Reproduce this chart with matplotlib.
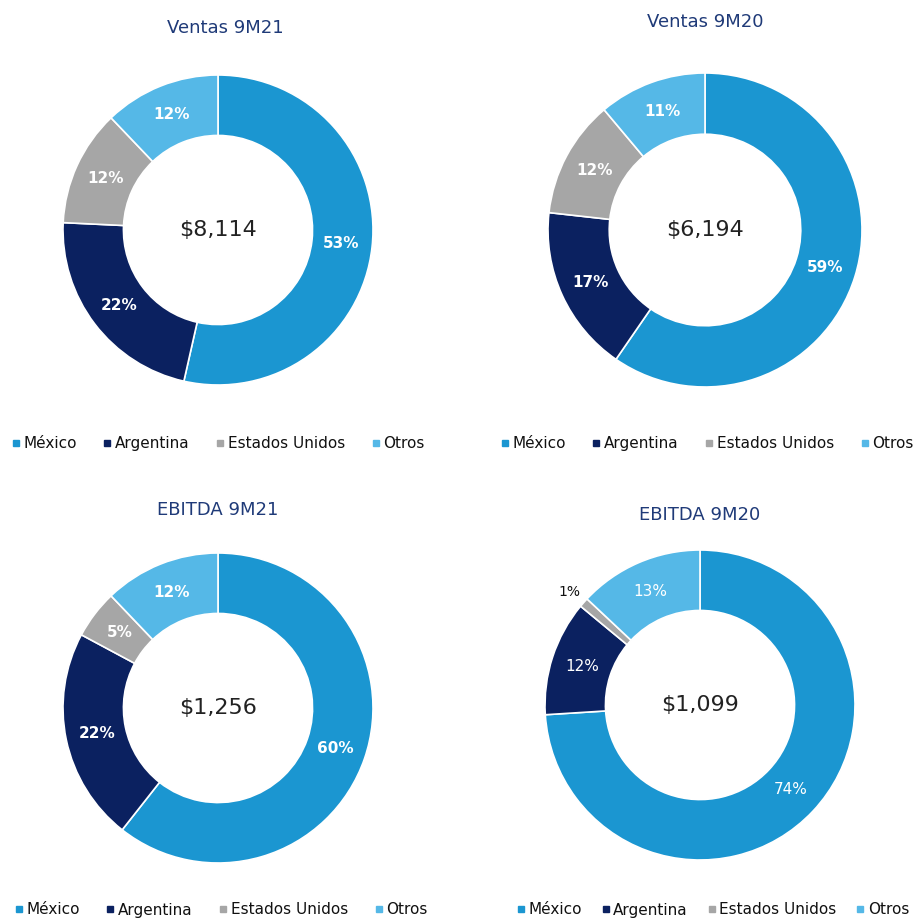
import matplotlib
matplotlib.use("Agg")
import matplotlib.pyplot as plt
from matplotlib.lines import Line2D
import numpy as np

categories = ["México", "Argentina", "Estados Unidos", "Otros"]
colors = ["#1B96D1", "#0B2160", "#A6A6A6", "#55B8E7"]

titles = ["Ventas 9M21", "Ventas 9M20", "EBITDA 9M21", "EBITDA 9M20"]
totals = ["$8,114", "$6,194", "$1,256", "$1,099"]
ventas_9m21 = [53, 22, 12, 12]
ventas_9m20 = [59, 17, 12, 11]
ebitda_9m21 = [60, 22, 5, 12]
ebitda_9m20 = [74, 12, 1, 13]
series = [ventas_9m21, ventas_9m20, ebitda_9m21, ebitda_9m20]

W, H = 917, 919
fig = plt.figure(figsize=(W / 100, H / 100), dpi=100)

# (center x, center y, radius) in pixels, title y, legend (x, y), legend column spacing
layout = [
    ((218, 230, 155), 28, (217, 444), 1.6),
    ((705, 230, 157), 22, (706, 444), 1.6),
    ((218, 708, 155), 510, (220, 910), 1.6),
    ((700, 705, 155), 515, (712, 910), 1.15),
]
bold_labels = [True, True, True, False]

for i, vals in enumerate(series):
    (cx, cy, r), ty, (lx, ly), cs = layout[i]
    ax = fig.add_axes([(cx - r) / W, (H - cy - r) / H, 2 * r / W, 2 * r / H])
    wedges, _ = ax.pie(vals, colors=colors, startangle=90, counterclock=False,
                       radius=1.0, wedgeprops=dict(width=0.39, edgecolor="white", linewidth=1.2))
    ax.set_xlim(-1, 1)
    ax.set_ylim(-1, 1)
    ax.set_aspect("equal")
    ax.axis("off")
    for w, v in zip(wedges, vals):
        ang = np.deg2rad((w.theta1 + w.theta2) / 2)
        if v <= 2:
            rr = 1.1
            ax.text(rr * np.cos(ang) - 0.02, rr * np.sin(ang), f"{v}%", ha="center", va="center",
                    fontsize=10, color="#111111")
        else:
            rr = 0.80
            ax.text(rr * np.cos(ang), rr * np.sin(ang), f"{v}%", ha="center", va="center",
                    fontsize=11, color="white",
                    fontweight="bold" if bold_labels[i] else "normal")
    ax.text(0, 0, totals[i], ha="center", va="center", fontsize=16, color="#222222")
    fig.text(cx / W + (0.008 if i == 0 else 0.0), 1 - ty / H, titles[i], ha="center", va="center",
             fontsize=13, color="#1F3A78")
    handles = [Line2D([], [], marker="s", linestyle="", markersize=5, color=c) for c in colors]
    fig.legend(handles, categories, loc="center", bbox_to_anchor=(lx / W, 1 - ly / H),
               ncol=4, frameon=False, fontsize=11, handletextpad=0.1, columnspacing=cs,
               handlelength=0.8, labelcolor="#111111")

fig.savefig("out.png", dpi=100, facecolor="white")
